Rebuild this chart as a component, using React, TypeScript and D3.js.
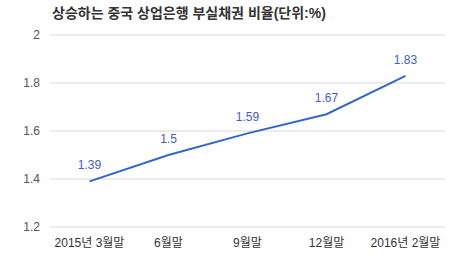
import React from "react";
import * as d3 from "d3";

const title = "상승하는 중국 상업은행 부실채권 비율(단위:%)";
const categories = ["2015년 3월말", "6월말", "9월말", "12월말", "2016년 2월말"];
const values = [1.39, 1.5, 1.59, 1.67, 1.83];
const yTicks = [1.2, 1.4, 1.6, 1.8, 2];

export default function App() {
  const W = 458, H = 260;
  const left = 50, right = 445, top = 35, bottom = 227;
  const x = d3.scalePoint<string>().domain(categories).range([left, right]).padding(0.5);
  const y = d3.scaleLinear().domain([1.2, 2]).range([bottom, top]);
  const line = d3.line<number>().x((_, i) => x(categories[i])!).y((d) => y(d));
  const font = "Arial, 'Liberation Sans', 'Noto Sans CJK KR', sans-serif";
  return (
    <svg width={W} height={H} style={{ position: "absolute", left: 0, top: 0, background: "#fff" }} fontFamily={font}>
      <text x={52} y={18} fontSize={14} fontWeight="bold" fill="#333">{title}</text>
      {yTicks.map((t) => (
        <g key={t}>
          <line x1={left} x2={right} y1={y(t)} y2={y(t)} stroke="#d9d9d9" strokeWidth={1} />
          <text x={40} y={y(t) + 4} fontSize={12} textAnchor="end" fill="#555">{t}</text>
        </g>
      ))}
      {categories.map((c) => (
        <text key={c} x={x(c)} y={247} fontSize={12} textAnchor="middle" fill="#333">{c}</text>
      ))}
      <path d={line(values)!} fill="none" stroke="#3366cc" strokeWidth={2} />
      {values.map((v, i) => (
        <text key={i} x={x(categories[i])} y={y(v) - 12} fontSize={12} textAnchor="middle" fill="#3d5fc4">{v}</text>
      ))}
    </svg>
  );
}
